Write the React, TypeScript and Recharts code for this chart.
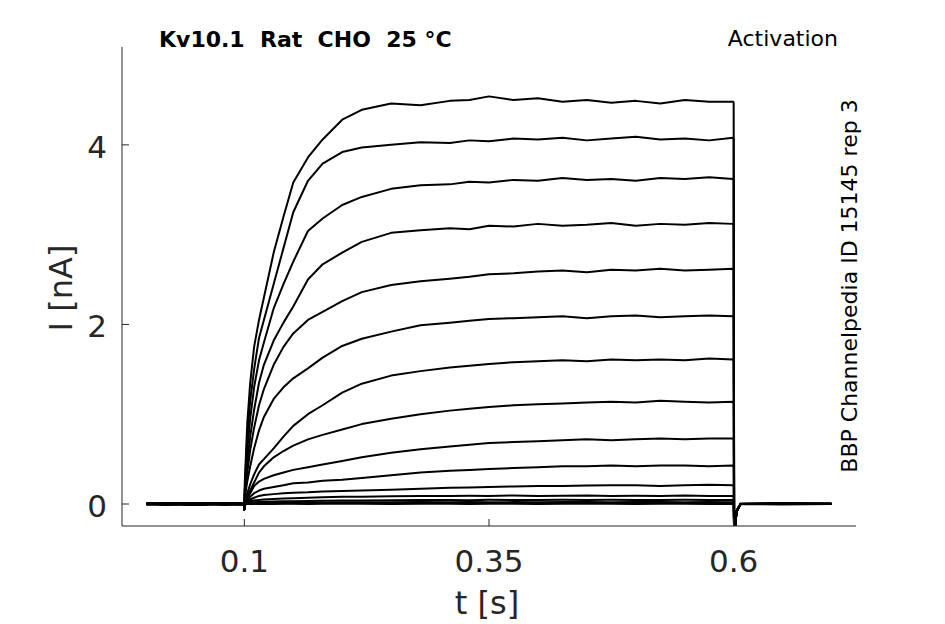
import React from 'react';
import { LineChart, Line, XAxis, YAxis } from 'recharts';

const times = [0, 0.02, 0.05, 0.08, 0.0995, 0.1, 0.1005, 0.103, 0.106, 0.11, 0.115, 0.12, 0.13, 0.14, 0.15, 0.165, 0.18, 0.2, 0.22, 0.25, 0.28, 0.31, 0.33, 0.35, 0.375, 0.4, 0.425, 0.45, 0.475, 0.5, 0.525, 0.55, 0.575, 0.5995, 0.6, 0.6005, 0.603, 0.607, 0.65, 0.7];

const traceA = [0, 0.01, -0.01, 0.005, 0, -0.06, 0.25, 0.9, 1.35, 1.75, 2.05, 2.3, 2.8, 3.2, 3.58, 3.86, 4.06, 4.28, 4.39, 4.46, 4.44, 4.49, 4.5, 4.54, 4.5, 4.52, 4.48, 4.5, 4.47, 4.49, 4.46, 4.5, 4.48, 4.48, 4.47, -0.35, -0.08, 0, 0.01, 0];
const traceB = [0.005, -0.01, 0.01, 0, 0.005, -0.06, 0.18, 0.75, 1.15, 1.5, 1.85, 2.05, 2.45, 2.85, 3.25, 3.6, 3.79, 3.92, 3.97, 4.0, 4.03, 4.02, 4.05, 4.04, 4.07, 4.06, 4.08, 4.05, 4.07, 4.09, 4.06, 4.07, 4.05, 4.08, 4.07, -0.35, -0.08, 0.005, 0, 0.005];
const traceC = [-0.005, 0, 0.01, -0.01, 0, -0.06, 0.15, 0.6, 0.95, 1.3, 1.6, 1.8, 2.18, 2.45, 2.7, 3.04, 3.18, 3.33, 3.42, 3.51, 3.55, 3.56, 3.59, 3.58, 3.61, 3.6, 3.63, 3.61, 3.62, 3.6, 3.63, 3.62, 3.64, 3.62, 3.63, -0.35, -0.08, 0, -0.005, 0];
const traceD = [0, 0.005, -0.005, 0.01, 0, -0.06, 0.12, 0.45, 0.75, 1.05, 1.35, 1.55, 1.82, 2.02, 2.2, 2.5, 2.67, 2.8, 2.92, 3.02, 3.05, 3.07, 3.06, 3.1, 3.09, 3.12, 3.1, 3.11, 3.13, 3.1, 3.12, 3.11, 3.13, 3.12, 3.12, -0.35, -0.08, 0, 0.005, 0];
const traceE = [0.01, 0, -0.01, 0, 0.005, -0.06, 0.1, 0.35, 0.6, 0.85, 1.1, 1.28, 1.55, 1.75, 1.9, 2.05, 2.14, 2.26, 2.36, 2.44, 2.48, 2.51, 2.53, 2.56, 2.57, 2.59, 2.6, 2.58, 2.61, 2.6, 2.62, 2.6, 2.61, 2.62, 2.61, -0.35, -0.08, 0, 0, 0.005];
const traceF = [0, -0.005, 0.005, 0, -0.01, -0.06, 0.08, 0.25, 0.42, 0.62, 0.82, 0.97, 1.17, 1.3, 1.4, 1.51, 1.63, 1.76, 1.84, 1.92, 1.99, 2.02, 2.04, 2.06, 2.07, 2.08, 2.09, 2.07, 2.09, 2.1, 2.08, 2.09, 2.1, 2.09, 2.09, -0.35, -0.08, 0, 0.005, 0];
const traceG = [0.005, 0, 0, -0.005, 0, -0.06, 0.05, 0.12, 0.22, 0.33, 0.44, 0.5, 0.62, 0.75, 0.87, 1.0, 1.1, 1.24, 1.34, 1.43, 1.48, 1.52, 1.54, 1.56, 1.58, 1.59, 1.6, 1.59, 1.61, 1.6, 1.61, 1.6, 1.62, 1.61, 1.61, -0.35, -0.08, 0, 0, 0];
const traceH = [0, 0.01, 0, 0.005, -0.005, -0.06, 0.04, 0.08, 0.15, 0.24, 0.35, 0.42, 0.52, 0.59, 0.65, 0.72, 0.77, 0.83, 0.89, 0.95, 1.0, 1.04, 1.06, 1.08, 1.1, 1.11, 1.12, 1.13, 1.14, 1.13, 1.15, 1.14, 1.13, 1.14, 1.14, -0.35, -0.08, 0, 0.005, 0];
const traceI = [-0.005, 0, 0.005, 0, 0.01, -0.06, 0.03, 0.06, 0.12, 0.2, 0.25, 0.28, 0.32, 0.35, 0.38, 0.41, 0.44, 0.48, 0.52, 0.57, 0.61, 0.64, 0.66, 0.68, 0.69, 0.7, 0.71, 0.72, 0.71, 0.72, 0.73, 0.72, 0.73, 0.73, 0.73, -0.35, -0.08, 0, 0, 0];
const traceJ = [0, 0, -0.01, 0.005, 0, -0.06, 0.02, 0.04, 0.08, 0.12, 0.15, 0.17, 0.19, 0.21, 0.23, 0.24, 0.26, 0.27, 0.29, 0.32, 0.35, 0.37, 0.38, 0.39, 0.4, 0.41, 0.42, 0.42, 0.43, 0.42, 0.43, 0.43, 0.42, 0.43, 0.43, -0.35, -0.08, 0, 0, 0.005];
const traceK = [0.005, -0.005, 0, 0.01, 0, -0.06, 0.01, 0.03, 0.05, 0.07, 0.09, 0.1, 0.11, 0.12, 0.125, 0.13, 0.14, 0.145, 0.15, 0.16, 0.17, 0.18, 0.185, 0.19, 0.195, 0.2, 0.2, 0.205, 0.21, 0.21, 0.2, 0.21, 0.215, 0.21, 0.21, -0.35, -0.08, 0, 0.005, 0];
const traceL = [0, 0.005, 0.01, 0, -0.005, -0.06, 0.01, 0.02, 0.03, 0.04, 0.045, 0.05, 0.055, 0.06, 0.065, 0.07, 0.075, 0.08, 0.082, 0.085, 0.09, 0.09, 0.092, 0.09, 0.095, 0.09, 0.092, 0.095, 0.09, 0.093, 0.09, 0.095, 0.09, 0.09, 0.09, -0.35, -0.08, 0, 0, 0];
const traceM = [0, -0.005, 0.005, 0, 0.005, -0.06, 0.005, 0.01, 0.015, 0.02, 0.022, 0.025, 0.028, 0.03, 0.032, 0.034, 0.036, 0.038, 0.04, 0.042, 0.044, 0.045, 0.043, 0.046, 0.045, 0.044, 0.047, 0.045, 0.046, 0.044, 0.045, 0.047, 0.045, 0.045, 0.045, -0.35, -0.08, 0, 0, 0];
const traceN = [0.005, 0, -0.005, 0.005, 0, -0.06, 0, 0.005, 0.008, 0.01, 0.012, 0.013, 0.014, 0.015, 0.016, 0.017, 0.018, 0.019, 0.02, 0.02, 0.021, 0.02, 0.022, 0.02, 0.021, 0.02, 0.022, 0.021, 0.02, 0.021, 0.022, 0.02, 0.021, 0.02, 0.02, -0.35, -0.08, 0, 0.005, 0];
const traceO = [0, 0.005, 0, -0.005, 0.005, -0.06, 0, 0.002, 0.004, 0.005, 0.006, 0.007, 0.008, 0.008, 0.009, 0.009, 0.01, 0.01, 0.01, 0.011, 0.01, 0.012, 0.01, 0.011, 0.01, 0.012, 0.01, 0.011, 0.01, 0.01, 0.011, 0.01, 0.012, 0.01, 0.01, -0.35, -0.08, 0, 0, 0];
const traceP = [-0.005, 0, 0.005, 0, 0, -0.06, -0.005, 0, 0, 0.002, 0, 0.003, 0, 0.002, 0.004, 0, 0.003, 0.002, 0.004, 0, 0.003, 0.002, 0, 0.004, 0.002, 0, 0.003, 0.002, 0.004, 0, 0.002, 0.003, 0, 0.002, 0, -0.35, -0.08, 0, 0, 0];

const traces = [traceA, traceB, traceC, traceD, traceE, traceF, traceG, traceH, traceI, traceJ, traceK, traceL, traceM, traceN, traceO, traceP];

const xTicks = [0.1, 0.35, 0.6];
const yTicks = [0, 2, 4];

const title = 'Kv10.1  Rat  CHO  25 °C';
const protocolLabel = 'Activation';
const sourceLabel = 'BBP Channelpedia ID 15145 rep 3';
const xLabel = 't [s]';
const yLabel = 'I [nA]';

const data = times.map((t, i) => {
  const row: Record<string, number> = { t };
  traces.forEach((tr, j) => {
    row['s' + j] = tr[i];
  });
  return row;
});

const FONT = 'DejaVu Sans';
const AXIS = '#262626';

export default function App() {
  return (
    <div style={{ position: 'absolute', left: 0, top: 0, width: 945, height: 624, background: '#fff' }}>
      <LineChart width={945} height={624} data={data} margin={{ top: 47, right: 89, left: 0, bottom: 0 }}>
        <XAxis
          dataKey="t"
          type="number"
          domain={[-0.025, 0.725]}
          allowDataOverflow
          ticks={xTicks}
          tickFormatter={(v: number) => String(v)}
          height={98}
          stroke={AXIS}
          tickSize={-7}
          tickMargin={31}
          tick={{ fontSize: 31, fill: AXIS, fontFamily: FONT }}
        />
        <YAxis
          type="number"
          domain={[-0.245, 5.09]}
          allowDataOverflow
          ticks={yTicks}
          width={122}
          stroke={AXIS}
          tickSize={-7}
          tickMargin={22}
          tick={{ fontSize: 31, fill: AXIS, fontFamily: FONT, dy: 2 }}
        />
        {traces.map((_, j) => (
          <Line
            key={j}
            dataKey={'s' + j}
            type="linear"
            stroke="#000"
            strokeWidth={2}
            strokeLinejoin="round"
            dot={false}
            activeDot={false}
            isAnimationActive={false}
          />
        ))}
      </LineChart>
      <svg width={945} height={624} style={{ position: 'absolute', left: 0, top: 0, pointerEvents: 'none' }}>
        <text x={159} y={47} fontFamily={FONT} fontSize={22} fontWeight="bold" fill="#000" style={{ whiteSpace: 'pre' }}>
          {title}
        </text>
        <text x={838} y={46} fontFamily={FONT} fontSize={22} fill="#000" textAnchor="end">
          {protocolLabel}
        </text>
        <text transform="translate(857,286) rotate(-90)" fontFamily={FONT} fontSize={22} fill="#000" textAnchor="middle">
          {sourceLabel}
        </text>
        <text transform="translate(72,288) rotate(-90)" fontFamily={FONT} fontSize={32} fill={AXIS} textAnchor="middle">
          {yLabel}
        </text>
        <text x={487} y={614} fontFamily={FONT} fontSize={32} fill={AXIS} textAnchor="middle">
          {xLabel}
        </text>
      </svg>
    </div>
  );
}
